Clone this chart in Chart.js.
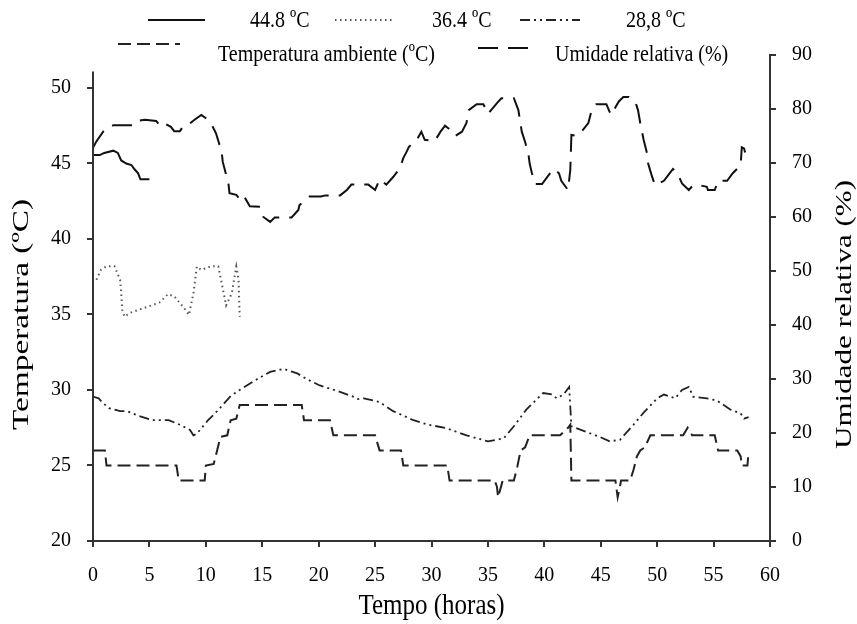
<!DOCTYPE html>
<html>
<head>
<meta charset="utf-8">
<script src="https://cdn.jsdelivr.net/npm/chart.js@4.4.1/dist/chart.umd.min.js"></script>
<style>
body{margin:0;background:#fff;}
</style>
</head>
<body>
<canvas id="mycanvas" width="857" height="624"></canvas>
<script>
// 44.8 ºC
var h448 = [0, 0.6, 1.0, 1.8, 2.2, 2.5, 2.95, 3.4, 3.7, 4.0, 4.2, 5.0];
var t448 = [45.56, 45.56, 45.7, 45.85, 45.7, 45.2, 45.0, 44.9, 44.6, 44.35, 43.95, 43.95];
// 36.4 ºC
var h364 = [0.3, 0.7, 1.2, 1.9, 2.4, 2.5, 2.6, 2.8, 3.25, 4.0, 5.2, 5.9, 6.65, 7.2, 8.0, 8.5, 8.9, 9.2, 9.6, 10.5, 11.1, 11.4, 11.8, 12.3, 12.7, 12.9, 13.0];
var t364 = [37.3, 37.95, 38.2, 38.2, 37.3, 36.4, 35.3, 34.85, 35.1, 35.3, 35.6, 35.8, 36.35, 36.2, 35.5, 34.97, 36.4, 38.17, 37.95, 38.2, 38.2, 37.1, 35.6, 36.4, 38.17, 37.3, 34.85];
// 28,8 ºC
var h288 = [0, 0.5, 0.8, 1.4, 2.4, 3.0, 4.0, 5.3, 6.7, 7.7, 8.6, 8.9, 9.2, 10.2, 11.0, 12.2, 13.0, 14.5, 15.7, 16.9, 18.1, 19.0, 20.1, 21.6, 23.1, 23.5, 24.0, 25.4, 26.6, 28.4, 29.7, 31.2, 33.1, 35.0, 36.4, 37.3, 38.4, 39.9, 40.7, 41.1, 41.7, 42.2, 42.4, 43.8, 44.9, 45.8, 46.7, 47.9, 48.8, 50.0, 50.6, 51.6, 52.2, 52.8, 53.2, 54.4, 55.3, 56.5, 57.4, 57.7, 58.1];
var t288 = [29.56, 29.45, 29.2, 28.8, 28.6, 28.6, 28.3, 28.0, 28.0, 27.7, 27.35, 27.0, 27.1, 28.0, 28.6, 29.6, 30.0, 30.7, 31.2, 31.4, 31.1, 30.7, 30.3, 29.95, 29.55, 29.4, 29.45, 29.2, 28.6, 28.0, 27.7, 27.5, 27.0, 26.6, 26.8, 27.6, 28.7, 29.8, 29.7, 29.45, 29.7, 30.2, 27.6, 27.2, 26.9, 26.6, 26.7, 27.7, 28.5, 29.45, 29.7, 29.45, 30.0, 30.2, 29.55, 29.45, 29.3, 28.7, 28.45, 28.1, 28.2];
// Temperatura ambiente
var hAmb = [0, 1.05, 1.2, 7.4, 7.6, 9.9, 10.0, 10.7, 11.0, 11.3, 11.9, 12.2, 12.7, 13.0, 18.5, 18.7, 21.0, 21.3, 25.0, 25.4, 27.3, 27.5, 31.4, 31.6, 35.6, 35.8, 35.9, 36.2, 36.3, 37.3, 37.6, 37.9, 38.3, 38.7, 41.4, 42.1, 42.3, 42.4, 46.3, 46.5, 46.7, 46.8, 47.6, 47.9, 48.2, 48.5, 48.9, 49.4, 52.3, 52.7, 53.1, 55.1, 55.4, 57.1, 57.4, 57.5, 58.0, 58.1];
var tAmb = [26, 26, 25, 25, 24, 24, 25, 25.1, 26, 26.9, 27, 28, 28.1, 29, 29, 28, 28, 27, 27, 26, 26, 25, 25, 24, 24, 23.6, 22.9, 23.7, 24, 24, 24.9, 26, 26.2, 27, 27, 27.5, 27.7, 24, 24, 22.9, 23.6, 24, 24, 24.7, 25.6, 26, 26.2, 27, 27, 27.5, 27, 27, 26, 26, 25.6, 25, 25, 25.9];
// Umidade relativa
var hUR = [0, 0.3, 0.9, 1.2, 1.8, 3.5, 3.8, 4.6, 5.6, 5.9, 6.2, 6.9, 7.2, 7.7, 8.0, 8.4, 9.0, 9.6, 10.0, 10.5, 10.9, 11.4, 11.5, 12.0, 12.1, 12.7, 13.1, 13.4, 13.9, 14.8, 15.1, 15.7, 16.1, 17.6, 18.2, 18.3, 19.2, 20.2, 20.6, 21.9, 22.5, 22.9, 24.4, 25.0, 25.4, 26.0, 26.6, 27.2, 27.5, 27.8, 28.0, 28.7, 29.1, 29.4, 30.3, 30.8, 31.2, 31.7, 32.1, 32.7, 33.1, 33.3, 34.0, 34.6, 35.0, 35.8, 36.2, 37.3, 37.7, 38.0, 38.3, 38.6, 38.7, 38.9, 39.2, 39.8, 40.4, 40.8, 41.3, 41.5, 42.1, 42.3, 42.4, 42.9, 43.3, 43.9, 44.2, 44.6, 45.5, 45.9, 46.6, 47.0, 47.5, 48.1, 48.3, 48.5, 48.8, 49.1, 49.2, 49.5, 49.8, 50.6, 51.0, 51.4, 51.8, 52.2, 52.8, 53.2, 53.7, 54.4, 54.5, 55.1, 55.4, 56.2, 56.7, 57.4, 57.5, 57.7, 58.0];
var ur = [72.8, 74, 75.8, 76.4, 77, 77, 77.8, 78, 77.8, 77, 77.5, 76.7, 75.9, 75.9, 76.8, 77, 78, 78.9, 78.3, 77.2, 75.5, 72.1, 70.2, 66.2, 64.4, 64.1, 63.1, 63.8, 62, 61.9, 60, 59.1, 59.9, 59.9, 61.3, 62.2, 63.8, 63.8, 64, 64, 65, 66, 66, 65, 67, 66, 67.4, 69, 70.9, 72.1, 73, 74.3, 75.8, 74.3, 74.1, 75.8, 76.9, 76.1, 75, 75.8, 77.4, 79.8, 80.9, 80.9, 79.1, 81.1, 82, 82, 79.8, 75.8, 73.9, 71.5, 69.9, 68.1, 66.1, 66.1, 67.8, 68.9, 68.1, 66.7, 65, 68.7, 75.2, 75, 75.8, 77.4, 79.8, 80.9, 80.9, 78.9, 81.4, 82.2, 82.2, 81.1, 79.8, 77.4, 74.3, 71.8, 69.9, 67.8, 65.9, 66.7, 67.8, 68.9, 68.1, 66.2, 65, 65.9, 65.9, 65.6, 65, 65, 66.7, 66.7, 68.1, 69.6, 72.9, 72.7, 70.4];

var tempTicks = [20, 25, 30, 35, 40, 45, 50];
var urTicks = [0, 10, 20, 30, 40, 50, 60, 70, 80, 90];

function pts(xs, ys) {
	var out = [];
	for (var i in xs) {
		out.push({x: xs[i], y: ys[i]});
	}
	return out;
}

var serif = "'Liberation Serif', 'Times New Roman', serif";
var axisCol = '#333';

// texto esticado na vertical, como na figura original
function stretchText(ctx, txt, x, y, size, rot, sy) {
	ctx.save();
	ctx.translate(x, y);
	ctx.rotate(rot);
	if (rot === 0) ctx.scale(1, sy); else ctx.scale(sy, 1);
	ctx.font = size + 'px ' + serif;
	ctx.fillStyle = '#000';
	ctx.fillText(txt, 0, 0);
	ctx.restore();
}

var extras = {
	id: 'extras',
	afterDraw: function(chart) {
		var ctx = chart.ctx;
		var yl = chart.scales.y;
		var xs = chart.scales.x;
		// eixo esquerdo
		ctx.save();
		ctx.strokeStyle = axisCol;
		ctx.lineWidth = 2;
		ctx.beginPath();
		ctx.moveTo(xs.left, yl.getPixelForValue(20) + 1);
		ctx.lineTo(xs.left, yl.getPixelForValue(51.1));
		ctx.stroke();
		ctx.restore();

		// legenda
		var items = [
			{ds: 0, x1: 148, x2: 205, y: 20, tx: 250, ty: 21},
			{ds: 1, x1: 335, x2: 392, y: 20, tx: 432, ty: 21},
			{ds: 2, x1: 520, x2: 580, y: 20, tx: 626, ty: 21},
			{ds: 3, x1: 118, x2: 180, y: 44, tx: 218, ty: 55},
			{ds: 4, x1: 478, x2: 535, y: 48, tx: 555, ty: 55}
		];
		ctx.textBaseline = 'middle';
		ctx.textAlign = 'left';
		for (var i in items) {
			var it = items[i];
			var d = chart.data.datasets[it.ds];
			ctx.save();
			ctx.strokeStyle = d.borderColor;
			ctx.lineWidth = d.borderWidth;
			ctx.setLineDash(d.borderDash || []);
			ctx.beginPath();
			ctx.moveTo(it.x1, it.y);
			ctx.lineTo(it.x2, it.y);
			ctx.stroke();
			ctx.restore();
			stretchText(ctx, d.label, it.tx, it.ty, 20, 0, 1.2);
		}

		// títulos dos eixos
		ctx.textAlign = 'center';
		stretchText(ctx, 'Tempo (horas)', (xs.left + xs.right) / 2, 606, 25, 0, 1.15);
		var cy = yl.getPixelForValue(35);
		stretchText(ctx, 'Temperatura (ºC)', 22, cy, 23, -Math.PI / 2, 1.45);
		stretchText(ctx, 'Umidade relativa (%)', 845, cy, 23, -Math.PI / 2, 1.35);
	}
};

var tickFont = {family: serif, size: 20};

var ctx1 = document.getElementById('mycanvas');
var chart = new Chart(ctx1, {
	type: 'scatter',
	data: {
		datasets: [
			{label: '44.8 ºC', data: pts(h448, t448), yAxisID: 'y', borderColor: '#111', borderWidth: 2, borderDash: []},
			{label: '36.4 ºC', data: pts(h364, t364), yAxisID: 'y', borderColor: '#555', borderWidth: 2, borderDash: [1.5, 3.5]},
			{label: '28,8 ºC', data: pts(h288, t288), yAxisID: 'y', borderColor: '#222', borderWidth: 1.8, borderDash: [10, 4, 2, 4, 2, 4]},
			{label: 'Temperatura ambiente (ºC)', data: pts(hAmb, tAmb), yAxisID: 'y', borderColor: '#222', borderWidth: 2, borderDash: [13, 6]},
			{label: 'Umidade relativa (%)', data: pts(hUR, ur), yAxisID: 'y1', borderColor: '#111', borderWidth: 2, borderDash: [20, 10]}
		]
	},
	options: {
		responsive: false,
		animation: false,
		devicePixelRatio: 1,
		showLine: true,
		elements: {point: {radius: 0}, line: {tension: 0, fill: false}},
		layout: {padding: {top: 55, left: 0, right: 0, bottom: 0}},
		plugins: {legend: {display: false}, tooltip: {enabled: false}},
		scales: {
			x: {
				type: 'linear', min: 0, max: 60,
				ticks: {stepSize: 5, color: '#000', font: tickFont, padding: 17, maxRotation: 0},
				grid: {drawOnChartArea: false, tickLength: 6, color: axisCol, lineWidth: 2},
				border: {color: axisCol, width: 2},
				afterFit: function(s) { s.height = 83; }
			},
			y: {
				position: 'left', min: 20, max: 52.185,
				afterBuildTicks: function(s) { s.ticks = tempTicks.map(function(v) { return {value: v}; }); },
				ticks: {color: '#000', font: tickFont, padding: 16},
				grid: {drawOnChartArea: false, tickLength: 6, color: axisCol, lineWidth: 2},
				border: {display: false},
				afterFit: function(s) { s.width = 93; }
			},
			y1: {
				position: 'right', min: 0, max: 90,
				afterBuildTicks: function(s) { s.ticks = urTicks.map(function(v) { return {value: v}; }); },
				ticks: {color: '#000', font: tickFont, padding: 16},
				grid: {drawOnChartArea: false, tickLength: 6, color: axisCol, lineWidth: 2},
				border: {color: axisCol, width: 2},
				afterFit: function(s) { s.width = 87; }
			}
		}
	},
	plugins: [extras]
});
</script>
</body>
</html>
